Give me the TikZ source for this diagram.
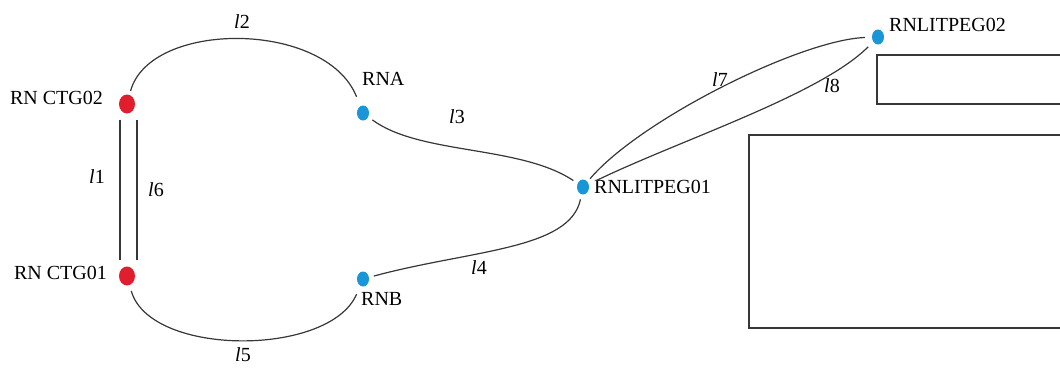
\documentclass[tikz,border=0pt]{standalone}
\usepackage{fontspec}
\setmainfont{Liberation Serif}
\usetikzlibrary{shapes.geometric}
\definecolor{rnred}{RGB}{225,30,45}
\definecolor{rnblue}{RGB}{25,150,215}
\definecolor{wire}{RGB}{55,55,55}
\tikzset{
  reddot/.style={ellipse, fill=rnred, inner sep=0pt, minimum width=16pt, minimum height=19pt},
  bluedot/.style={ellipse, fill=rnblue, inner sep=0pt, minimum width=12pt, minimum height=15pt},
  link/.style={draw=wire, line width=1.2pt},
  lbl/.style={inner sep=0pt, font=\fontsize{20}{22}\selectfont}
}
\begin{document}
\begin{tikzpicture}[x=1pt, y=-1pt]
				\useasboundingbox (0,0) rectangle (1060,367);

				\node[reddot] (ctgB) at (127, 104) {};
				\node[reddot] (ctgA) at (127, 276) {};
				\node[bluedot] (rna) at (363, 113) {};
				\node[bluedot] (rnb) at (363, 279) {};
				\node[bluedot] (pegA) at (583, 187) {};
				\node[bluedot] (pegB) at (878, 37) {};

				\node[lbl, anchor=east] at (103, 98) {RN CTG02};
				\node[lbl, anchor=east] at (107, 273) {RN CTG01};
				\node[lbl, anchor=west] at (362, 79) {RNA};
				\node[lbl, anchor=west] at (361, 299) {RNB};
				\node[lbl, anchor=west] at (594, 187) {RNLITPEG01};
				\node[lbl, anchor=west] at (889, 25) {RNLITPEG02};

				\draw[link, shorten <=6pt, shorten >=6pt] ([xshift=-7pt]ctgB.south) -- ([xshift=-7pt]ctgA.north);
				\draw[link, shorten <=6pt, shorten >=6pt] ([xshift=10pt]ctgB.south) -- ([xshift=10pt]ctgA.north);
				\draw[link, shorten <=4pt, shorten >=10pt] (ctgB) .. controls (150, 20) and (326, 20) .. (rna);
				\draw[link, shorten <=6pt, shorten >=9pt] (ctgA) .. controls (150, 357) and (330, 357) .. (rnb);
				\draw[link, shorten <=5pt, shorten >=5pt] (rna) .. controls (420, 155) and (520, 145) .. (pegA);
				\draw[link, shorten <=5pt, shorten >=5pt] (rnb) .. controls (470, 250) and (570, 250) .. (pegA);
				\draw[link, shorten <=4pt, shorten >=7pt] (pegA) .. controls (640, 120) and (800, 40) .. (pegB);
				\draw[link, shorten <=8pt, shorten >=7pt] (pegA) .. controls (680, 140) and (820, 95) .. (pegB);

				\node[lbl] (l1) at (97, 177) {\textit{l}1};
				\node[lbl] (l6) at (156, 190) {\textit{l}6};
				\node[lbl] (l2) at (242, 22) {\textit{l}2};
				\node[lbl] (l5) at (243, 355) {\textit{l}5};
				\node[lbl] (l3) at (457, 117) {\textit{l}3};
				\node[lbl] (l4) at (479, 268) {\textit{l}4};
				\node[lbl] (l7) at (720, 80) {\textit{l}7};
				\node[lbl] (l8) at (832, 86) {\textit{l}8};

				\draw[wire, line width=1.4pt] (1062, 55) -| (877, 104) -- (1062, 104);
				\draw[wire, line width=1.4pt] (1062, 135) -| (749, 328) -- (1062, 328);
			\end{tikzpicture}
\end{document}
